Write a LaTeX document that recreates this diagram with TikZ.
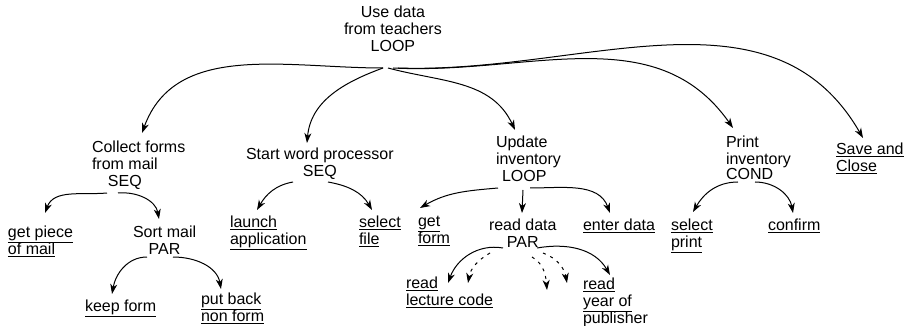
\documentclass[tikz,border=0pt]{standalone}
\usepackage{fontspec}
\setmainfont{Liberation Sans}
\usetikzlibrary{arrows.meta}
\newcommand{\primact}[1]{\underline{#1}}
\tikzset{
  task/.style={anchor=north west, inner sep=0pt, outer sep=0pt,
    font=\fontsize{16}{17}\selectfont},
  link/.style={-{Stealth[length=10pt,width=7pt,inset=3pt]}, line width=1pt},
  more/.style={link, dash pattern=on 3pt off 5pt}
}
\begin{document}
\begin{tikzpicture}[x=1pt,y=1pt]
  \useasboundingbox (0,0) rectangle (906,-326);
  % tasks
  \node[task, align=center] (root) at (344,-6) {Use data\\from teachers\\LOOP};
  \node[task, align=left] (collect) at (92,-141) {Collect forms\\from mail\\\hspace*{16pt}SEQ};
  \node[task, align=center] (start) at (246,-148) {Start word processor\\SEQ};
  \node[task, align=left] (update) at (496,-136) {Update\\inventory\\\hspace*{6pt}LOOP};
  \node[task, align=left] (print) at (726,-136) {Print\\inventory\\[-2pt]COND};
  \node[task, align=left] (save) at (836,-143) {\primact{Save and}\\\primact{Close}};
  \node[task, align=left] (getmail) at (8,-226) {\primact{get piece}\\\primact{of mail}};
  \node[task, align=center] (sortmail) at (133,-226) {Sort mail\\PAR};
  \node[task] (keepform) at (85,-300) {\primact{keep form}};
  \node[task, align=left] (putback) at (201,-293) {\primact{put back}\\\primact{non form}};
  \node[task, align=left] (launch) at (230,-216) {\primact{launch}\\\primact{application}};
  \node[task, align=left] (selfile) at (359,-216) {\primact{select}\\\primact{file}};
  \node[task, align=left] (getform) at (418,-216) {\primact{get}\\\primact{form}};
  \node[task, align=center] (readdata) at (489,-219) {read data\\PAR};
  \node[task] (enterdata) at (583,-219) {\primact{enter data}};
  \node[task, align=left] (selprint) at (671,-219) {\primact{select}\\\primact{print}};
  \node[task] (confirm) at (768,-219) {\primact{confirm}};
  \node[task, align=left] (lecture) at (406,-277) {\primact{read}\\\primact{lecture code}};
  \node[task, align=left] (publisher) at (583,-278) {\primact{read}\\\primact{year of}\\\primact{publisher}};
  \coordinate (more1) at (468,-283);
  \coordinate (more2) at (547,-290);
  \coordinate (more3) at (567,-283);
  % links
  \draw[link] ([shift={(39,-62)}]root.north west) to[out=180,in=70] ([shift={(50,8)}]collect.north west);
  \draw[link] ([shift={(39,-62)}]root.north west) to[out=200,in=85] ([shift={(61,5)}]start.north west);
  \draw[link] ([shift={(44,-62)}]root.north west) to[out=-15,in=115] ([shift={(19,6)}]update.north west);
  \draw[link] ([shift={(49,-62)}]root.north west) to[out=-3,in=125] ([shift={(7,8)}]print.north west);
  \draw[link] ([shift={(54,-62)}]root.north west) to[out=-2,in=120] ([shift={(27,5)}]save.north west);
  \draw[link] ([shift={(15,-52)}]collect.north west) to[out=185,in=70] ([shift={(37,13)}]getmail.north west);
  \draw[link] ([shift={(26,-52)}]collect.north west) to[out=5,in=100] ([shift={(26,7)}]sortmail.north west);
  \draw[link] ([shift={(14,-31)}]sortmail.north west) to[out=180,in=80] ([shift={(27,6)}]keepform.north west);
  \draw[link] ([shift={(40,-31)}]sortmail.north west) to[out=0,in=100] ([shift={(20,4)}]putback.north west);
  \draw[link] ([shift={(47,-34)}]start.north west) to[out=190,in=60] ([shift={(27,6)}]launch.north west);
  \draw[link] ([shift={(82,-34)}]start.north west) to[out=-10,in=120] ([shift={(13,6)}]selfile.north west);
  \draw[link] ([shift={(2,-52)}]update.north west) to[out=185,in=30] ([shift={(2,8)}]getform.north west);
  \draw[link] ([shift={(27,-54)}]update.north west) -- ([shift={(33,6)}]readdata.north west);
  \draw[link] ([shift={(34,-52)}]update.north west) to[out=0,in=110] ([shift={(27,6)}]enterdata.north west);
  \draw[link] ([shift={(14,-29)}]readdata.north west) to[out=170,in=70] ([shift={(42,-6)}]lecture.north west);
  \draw[link] ([shift={(48,-29)}]readdata.north west) to[out=10,in=120] ([shift={(27,3)}]publisher.north west);
  \draw[more] ([shift={(1,-34)}]readdata.north west) to[out=210,in=80] (more1);
  \draw[more] ([shift={(43,-38)}]readdata.north west) to[out=-30,in=95] (more2);
  \draw[more] ([shift={(54,-34)}]readdata.north west) to[out=-20,in=100] (more3);
  \draw[link] ([shift={(12,-46)}]print.north west) to[out=180,in=60] ([shift={(22,7)}]selprint.north west);
  \draw[link] ([shift={(29,-46)}]print.north west) to[out=0,in=100] ([shift={(25,6)}]confirm.north west);
\end{tikzpicture}
\end{document}
